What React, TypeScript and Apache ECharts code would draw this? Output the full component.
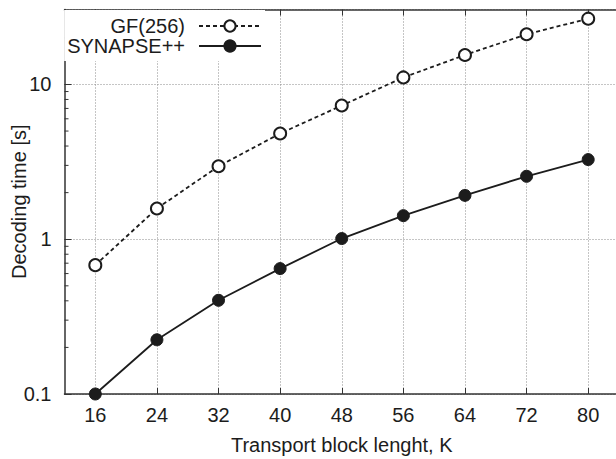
import React, { useEffect, useRef } from "react";
import * as echarts from "echarts";

const blockLengths = [16, 24, 32, 40, 48, 56, 64, 72, 80];
const gf256Times = [0.68, 1.58, 2.96, 4.82, 7.31, 11.1, 15.5, 21.1, 26.6];
const synapseTimes = [0.1, 0.224, 0.403, 0.646, 1.01, 1.42, 1.92, 2.55, 3.27];
const yMinorTicks = [0.2, 0.3, 0.4, 0.5, 0.6, 0.7, 0.8, 0.9, 2, 3, 4, 5, 6, 7, 8, 9, 20, 30];

const FONT = "Liberation Sans, Arial, Helvetica, sans-serif";
const INK = "#1c1c1c";
const FS = 20;

export default function App() {
  const ref = useRef<HTMLDivElement>(null);
  useEffect(() => {
    if (!ref.current) return;
    const chart = echarts.init(ref.current, null, { renderer: "svg" });
    const xMin = 12;
    const xMax = 84;
    chart.setOption({
      animation: false,
      backgroundColor: "#ffffff",
      textStyle: { fontFamily: FONT },
      grid: {
        left: 64.5,
        top: 9.5,
        width: 554.5,
        height: 384.5,
        containLabel: false,
        outerBoundsMode: "none",
      },
      legend: {
        orient: "vertical",
        align: "right",
        right: 351,
        top: 10,
        padding: [6, 3, 5, 3],
        backgroundColor: "#ffffff",
        itemWidth: 62,
        itemHeight: 14,
        itemGap: 0,
        data: ["GF(256)", "SYNAPSE++"],
        textStyle: {
          fontFamily: FONT,
          fontSize: FS,
          color: INK,
          lineHeight: 20,
          padding: [0, 9, 0, 0],
        },
      },
      xAxis: [
        {
          type: "value",
          min: xMin,
          max: xMax,
          position: "bottom",
          name: "Transport block lenght, K",
          nameLocation: "middle",
          nameGap: 41,
          nameMoveOverlap: false,
          nameTextStyle: { fontFamily: FONT, fontSize: FS, color: INK },
          axisLine: { show: true, onZero: false, lineStyle: { color: "#333", width: 1.5 } },
          axisTick: { show: true, inside: true, length: 6, customValues: blockLengths, lineStyle: { color: "#333", width: 1 } },
          axisLabel: { customValues: blockLengths, margin: 11, fontFamily: FONT, fontSize: FS, color: INK },
          splitLine: { show: true, lineStyle: { color: "#8a8a8a", type: [1, 2], width: 1 } },
        },
        {
          type: "value",
          min: xMin,
          max: xMax,
          position: "top",
          axisLine: { show: true, onZero: false, lineStyle: { color: "#333", width: 1.5 } },
          axisTick: { show: true, inside: true, length: 6, customValues: blockLengths, lineStyle: { color: "#333", width: 1 } },
          axisLabel: { show: false },
          splitLine: { show: false },
        },
      ],
      yAxis: {
        type: "log",
        logBase: 10,
        min: 0.1,
        max: 30.5,
        name: "Decoding time [s]",
        nameLocation: "middle",
        nameGap: 36,
        nameMoveOverlap: false,
        nameTextStyle: { fontFamily: FONT, fontSize: FS, color: INK },
        axisLine: { show: true, lineStyle: { color: "#333", width: 1.5 } },
        axisTick: { show: true, inside: true, length: 7, lineStyle: { color: "#333", width: 1 } },
        axisLabel: {
          margin: 13,
          showMaxLabel: false,
          fontFamily: FONT,
          fontSize: FS,
          color: INK,
          formatter: (v: number) => (v < 1 ? String(v) : String(Math.round(v))),
        },
        splitLine: { show: true, lineStyle: { color: "#8a8a8a", type: [1, 2], width: 1 } },
      },
      series: [
        {
          name: "minor",
          type: "custom",
          xAxisIndex: 0,
          silent: true,
          data: yMinorTicks.map((v) => [xMin, v]),
          renderItem: (params: any, api: any) => {
            const p = api.coord([api.value(0), api.value(1)]);
            return {
              type: "line",
              shape: { x1: p[0], y1: p[1], x2: p[0] + 4, y2: p[1] },
              style: { stroke: "#333", lineWidth: 1 },
            };
          },
        },
        {
          name: "GF(256)",
          type: "line",
          xAxisIndex: 0,
          clip: false,
          data: blockLengths.map((k, i) => [k, gf256Times[i]]),
          symbol: "circle",
          symbolSize: 12,
          lineStyle: { color: INK, width: 1.8, type: [4, 3] },
          itemStyle: { color: "#ffffff", borderColor: INK, borderWidth: 2 },
          z: 3,
        },
        {
          name: "SYNAPSE++",
          type: "line",
          xAxisIndex: 0,
          clip: false,
          data: blockLengths.map((k, i) => [k, synapseTimes[i]]),
          symbol: "circle",
          symbolSize: 12,
          lineStyle: { color: INK, width: 1.8, type: "solid" },
          itemStyle: { color: INK, borderColor: INK, borderWidth: 1 },
          z: 3,
        },
      ],
    });
    return () => chart.dispose();
  }, []);
  return (
    <div
      ref={ref}
      style={{ position: "fixed", left: 0, top: 0, width: 616, height: 459 }}
    />
  );
}
